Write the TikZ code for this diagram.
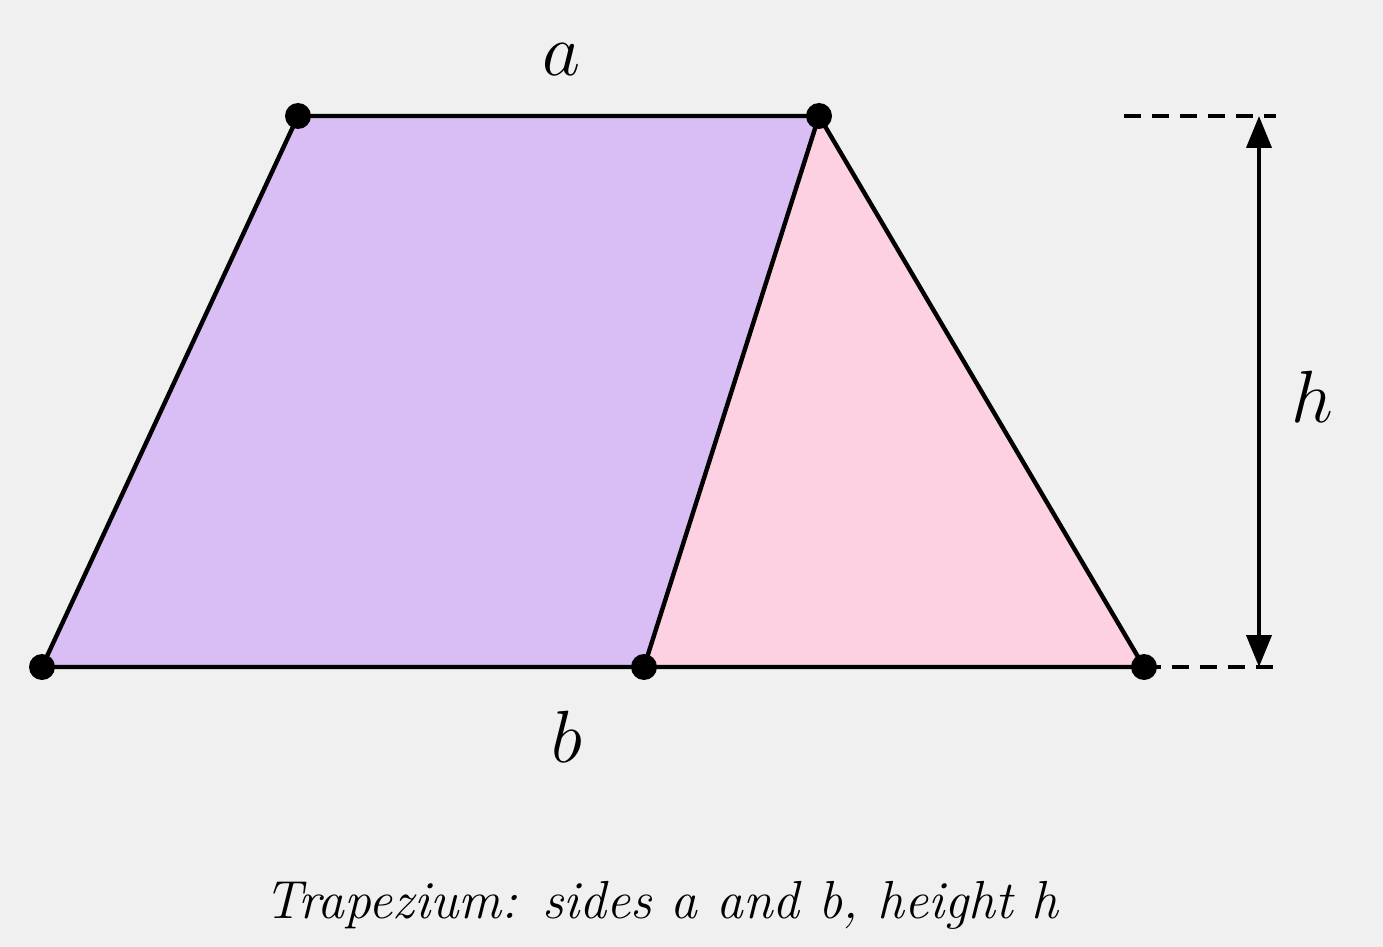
\RequirePackage{fix-cm}
\documentclass[tikz,border=0pt]{standalone}
\usetikzlibrary{arrows.meta}
\definecolor{bgc}{HTML}{F0F0F0}
\definecolor{purp}{HTML}{D8BEF5}
\definecolor{pinkc}{HTML}{FDD1E2}
\begin{document}
\begin{tikzpicture}[x=0.5pt,y=-0.5pt,
  edge/.style={line width=2.2pt,line join=round},
  dot/.style={circle,fill=black,inner sep=0pt,minimum size=13pt},
  dimline/.style={line width=1.6pt,dash pattern=on 8.5pt off 5.5pt},
  lab/.style={font=\fontsize{37}{40}\selectfont}]
\fill[bgc] (0,0) rectangle (1383,947);
\useasboundingbox (0,0) rectangle (1383,947);
\coordinate (A) at (42,667);
\coordinate (B) at (298,116);
\coordinate (C) at (819,116);
\coordinate (D) at (644,667);
\coordinate (E) at (1144,667);
\fill[purp] (A) -- (B) -- (C) -- (D) -- cycle;
\fill[pinkc] (D) -- (C) -- (E) -- cycle;
\draw[edge] (A) -- (B) -- (C) -- (E) -- cycle;
\draw[edge] (C) -- (D);
\coordinate (T1) at (1124,116);
\coordinate (T2) at (1276,116);
\coordinate (B2) at (1282,667);
\draw[dimline] (T1) -- (T2);
\draw[dimline] (E) -- (B2);
\coordinate (HT) at (1259,116);
\coordinate (HB) at (1259,667);
\draw[line width=2pt,{Triangle[length=16pt,width=12.5pt]}-{Triangle[length=16pt,width=12.5pt]}] (HT) -- (HB);
\foreach \p in {A,B,C,D,E} \node[dot] (d\p) at (\p) {};
\node[lab] (la) at (562,60) {$a$};
\node[lab] (lb) at (567,737) {$b$};
\node[lab] (lh) at (1312,397) {$h$};
\node[font=\fontsize{26.8}{30}\selectfont] (cap) at (662,905) {\textit{Trapezium: sides a and b, height h}};
\end{tikzpicture}
\end{document}
